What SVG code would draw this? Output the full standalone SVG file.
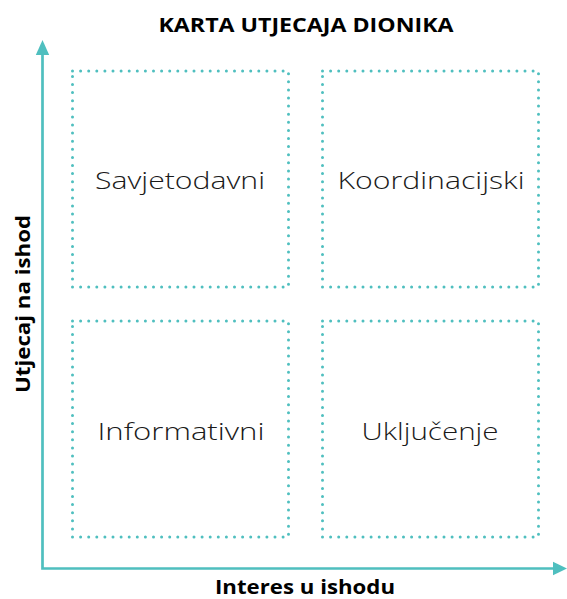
<svg xmlns="http://www.w3.org/2000/svg" width="567" height="599" viewBox="0 0 567 599">
<style>
.box{fill:none;stroke:#4fbfbf;stroke-width:3;stroke-linecap:round;stroke-dasharray:0 8.1}
.lbl{font-family:"Open Sans","Noto Sans",sans-serif;font-size:24px;font-weight:300;fill:#1a1a1a;text-anchor:middle}
.ax{font-family:"Open Sans","Noto Sans",sans-serif;font-weight:700;fill:#000;text-anchor:middle}
.axis{stroke:#4fbfbf;stroke-width:2.7;fill:none}
.head{fill:#4fbfbf}
</style>
<text class="ax" x="306" y="31.5" font-size="20" textLength="295" lengthAdjust="spacingAndGlyphs">KARTA UTJECAJA DIONIKA</text>
<g id="connectors">
<polyline class="axis" points="42.5,52 42.5,568.5 556,568.5"/>
<path class="head" d="M42.5,40 L49.2,55 L35.8,55 z"/>
<path class="head" d="M567,568.5 L553,561.8 L553,575.2 z"/>
</g>
<g id="savjetodavni">
<rect class="box" x="72.5" y="71" width="216" height="216"/>
<text class="lbl" x="180" y="189" textLength="170" lengthAdjust="spacingAndGlyphs">Savjetodavni</text>
</g>
<g id="koordinacijski">
<rect class="box" x="322.5" y="71" width="216" height="216"/>
<text class="lbl" x="431" y="189" textLength="187" lengthAdjust="spacingAndGlyphs">Koordinacijski</text>
</g>
<g id="informativni">
<rect class="box" x="72.5" y="321" width="216" height="216"/>
<text class="lbl" x="181" y="440" textLength="167" lengthAdjust="spacingAndGlyphs">Informativni</text>
</g>
<g id="ukljucenje">
<rect class="box" x="322.5" y="321" width="216" height="216"/>
<text class="lbl" x="430" y="440" textLength="137" lengthAdjust="spacingAndGlyphs">Uključenje</text>
</g>
<text class="ax" x="305" y="594" font-size="19" textLength="180" lengthAdjust="spacingAndGlyphs">Interes u ishodu</text>
<text class="ax" font-size="19" transform="translate(30,304) rotate(-90)" textLength="178" lengthAdjust="spacingAndGlyphs">Utjecaj na ishod</text>
</svg>
